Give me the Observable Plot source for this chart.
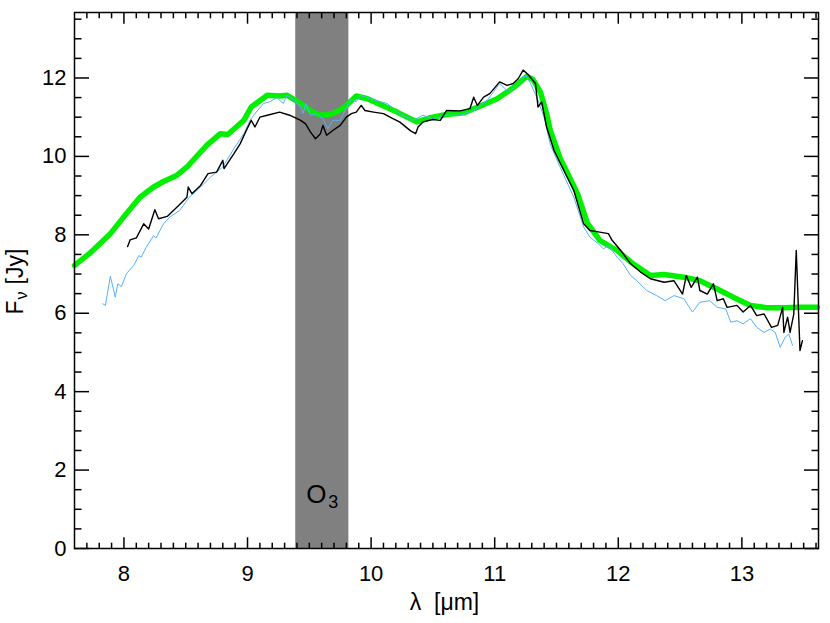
<!DOCTYPE html>
<html><head><meta charset="utf-8">
<script src="https://cdn.jsdelivr.net/npm/d3@7"></script>
<script src="https://cdn.jsdelivr.net/npm/@observablehq/plot@0.6"></script>
<style>body{margin:0;background:#fff} #chart svg{display:block}</style>
</head><body><div id="chart"></div>
<script>
// ---- data ----
const greenLambda = [7.6,7.72,7.89,8.02,8.13,8.24,8.32,8.43,8.51,8.67,8.78,8.84,8.97,9.03,9.16,9.26,9.32,9.43,9.51,9.59,9.69,9.78,9.88,9.97,10.07,10.21,10.37,10.48,10.61,10.75,10.88,11.02,11.15,11.26,11.31,11.37,11.42,11.45,11.53,11.60,11.67,11.75,11.85,11.99,12.12,12.26,12.37,12.53,12.66,12.80,12.93,13.07,13.20,13.34,13.47,13.61];
const greenFlux = [7.22,7.52,8.03,8.54,8.96,9.22,9.36,9.52,9.73,10.28,10.58,10.56,10.92,11.26,11.56,11.54,11.56,11.35,11.16,11.05,11.09,11.24,11.54,11.47,11.33,11.13,10.88,10.99,11.07,11.11,11.28,11.47,11.75,12.04,11.96,11.64,11.09,10.66,9.95,9.5,9.05,8.3,7.86,7.6,7.26,6.96,6.99,6.92,6.83,6.62,6.41,6.2,6.14,6.14,6.15,6.15];

const blackLambda = [8.03,8.05,8.10,8.16,8.20,8.25,8.28,8.35,8.43,8.51,8.52,8.55,8.62,8.68,8.75,8.80,8.81,8.89,8.94,8.99,9.03,9.06,9.10,9.16,9.26,9.34,9.43,9.47,9.51,9.55,9.59,9.61,9.64,9.69,9.75,9.80,9.84,9.88,9.92,9.95,10.02,10.10,10.18,10.23,10.32,10.36,10.38,10.42,10.50,10.56,10.61,10.72,10.80,10.83,10.86,10.91,10.96,11.04,11.10,11.15,11.19,11.23,11.27,11.33,11.35,11.38,11.42,11.48,11.56,11.64,11.72,11.77,11.85,11.92,11.95,12.02,12.10,12.18,12.26,12.37,12.45,12.52,12.55,12.59,12.64,12.66,12.72,12.77,12.80,12.85,12.88,12.96,13.01,13.07,13.12,13.18,13.24,13.29,13.33,13.34,13.37,13.39,13.42,13.44,13.47,13.49];
const blackFlux = [7.70,7.87,7.92,8.28,8.15,8.64,8.41,8.47,8.71,8.96,9.22,9.05,9.26,9.56,9.60,9.90,9.69,10.07,10.32,10.66,10.92,10.75,11.00,11.05,11.13,11.05,10.92,10.83,10.62,10.45,10.58,10.79,10.54,10.66,10.79,11.00,11.09,11.13,11.30,11.17,11.13,11.09,10.96,10.88,10.65,10.58,10.75,10.88,10.94,10.92,11.17,11.16,11.22,11.51,11.30,11.51,11.60,11.90,11.81,11.86,11.98,12.20,12.09,11.86,11.26,11.39,10.75,10.15,9.64,9.13,8.28,8.11,8.07,8.03,7.86,7.60,7.26,7.05,6.88,6.79,6.83,6.49,6.96,6.66,6.92,6.58,6.49,6.75,6.32,6.37,6.15,6.20,6.03,6.20,5.94,5.98,5.64,5.69,6.15,5.51,5.90,5.51,5.98,7.60,5.05,5.30];

const blueLambda = [7.83,7.85,7.89,7.93,7.95,7.98,8.02,8.08,8.12,8.14,8.18,8.24,8.26,8.32,8.37,8.45,8.53,8.62,8.70,8.80,8.89,8.97,9.02,9.07,9.13,9.18,9.24,9.26,9.29,9.32,9.37,9.43,9.45,9.47,9.51,9.56,9.61,9.65,9.69,9.75,9.79,9.84,9.88,9.91,9.99,10.13,10.23,10.34,10.42,10.50,10.61,10.72,10.83,10.94,11.04,11.10,11.15,11.21,11.25,11.29,11.34,11.40,11.45,11.55,11.64,11.72,11.77,11.84,11.88,11.92,11.99,12.04,12.10,12.15,12.23,12.31,12.38,12.45,12.53,12.60,12.66,12.74,12.80,12.87,12.91,12.96,13.01,13.07,13.12,13.18,13.23,13.27,13.31,13.35,13.38,13.41];
const blueFlux = [6.24,6.20,6.94,6.41,6.75,6.68,7.01,7.22,7.47,7.43,7.68,7.98,7.92,8.28,8.45,8.62,8.96,9.22,9.47,9.73,10.20,10.58,10.92,11.13,11.35,11.39,11.51,11.43,11.35,11.56,11.47,11.26,11.09,11.35,11.05,11.09,10.96,10.71,10.92,10.92,11.17,11.47,11.39,11.56,11.47,11.35,11.09,10.92,11.05,10.96,11.05,11.05,11.17,11.43,11.86,11.68,11.73,11.90,12.07,11.86,11.51,11.00,10.30,9.58,8.96,8.20,7.94,7.77,7.64,7.73,7.43,7.26,6.96,6.83,6.58,6.45,6.32,6.45,6.37,6.03,6.28,6.32,6.15,6.11,5.77,5.81,5.73,5.86,5.64,5.51,5.60,5.51,5.13,5.39,5.47,5.18];

const bandRange = [9.39, 9.82];
const bandLabelPos = [9.605, 1.38];
const xTickLabels = [8, 9, 10, 11, 12, 13];
const yTickLabels = [0, 2, 4, 6, 8, 10, 12];
const xMinorTicks = [7.7,7.8,7.9,8.1,8.2,8.3,8.4,8.5,8.6,8.7,8.8,8.9,9.1,9.2,9.3,9.4,9.5,9.6,9.7,9.8,9.9,10.1,10.2,10.3,10.4,10.5,10.6,10.7,10.8,10.9,11.1,11.2,11.3,11.4,11.5,11.6,11.7,11.8,11.9,12.1,12.2,12.3,12.4,12.5,12.6,12.7,12.8,12.9,13.1,13.2,13.3,13.4,13.5,13.6];
const yMinorTicks = [0.5,1,1.5,2.5,3,3.5,4.5,5,5.5,6.5,7,7.5,8.5,9,9.5,10.5,11,11.5,12.5,13,13.5];
const xDomain = [7.6, 13.62];
const yDomain = [0, 13.67];
const xTitle = "λ\u00a0\u00a0[μm]";

// ---- build tables ----
const green = greenLambda.map((x, i) => ({x, y: greenFlux[i]}));
const black = blackLambda.map((x, i) => ({x, y: blackFlux[i]}));
const blue = blueLambda.map((x, i) => ({x, y: blueFlux[i]}));

// inward ticks on all four sides (negative tickSize = inward)
const tickAxes = [];
for (const [vals, len] of [[xTickLabels, 10.7], [xMinorTicks, 5.3]]) {
  for (const anchor of ["bottom", "top"]) {
    tickAxes.push(Plot.axisX(vals, {anchor, tickSize: -len, tickFormat: () => "", label: null, stroke: "#000", strokeWidth: 1.5}));
  }
}
for (const [vals, len] of [[yTickLabels, 15], [yMinorTicks, 7.5]]) {
  for (const anchor of ["left", "right"]) {
    tickAxes.push(Plot.axisY(vals, {anchor, tickSize: -len, tickFormat: () => "", label: null, stroke: "#000", strokeWidth: 1.5}));
  }
}

const plot = Plot.plot({
  width: 830, height: 623,
  marginLeft: 74, marginRight: 12, marginTop: 12, marginBottom: 75,
  style: {fontFamily: "Liberation Sans", fontSize: "22px"},
  x: {domain: xDomain, axis: null},
  y: {domain: yDomain, axis: null},
  marks: [
    Plot.rect([bandRange], {x1: d => d[0], x2: d => d[1], fill: "#808080"}),
    Plot.line(green, {x: "x", y: "y", stroke: "#00f000", strokeWidth: 5.5}),
    Plot.line(blue, {x: "x", y: "y", stroke: "#55b0ff", strokeWidth: 1}),
    Plot.line(black, {x: "x", y: "y", stroke: "#000", strokeWidth: 1.4}),
    ...tickAxes,
    Plot.axisX(xTickLabels, {anchor: "bottom", tickSize: 0, tickPadding: 17, label: null, tickFormat: d => String(d)}),
    Plot.axisY(yTickLabels, {anchor: "left", tickSize: 0, tickPadding: 8, label: null, tickFormat: d => String(d)}),
    // O3 label inside the band
    Plot.text(["O"], {x: () => bandLabelPos[0], y: () => bandLabelPos[1], text: d => d, fontSize: 26, dx: -6}),
    Plot.text(["3"], {x: () => bandLabelPos[0], y: () => bandLabelPos[1], text: d => d, fontSize: 18, dx: 11, dy: 8}),
    // axis titles
    Plot.text([xTitle], {frameAnchor: "bottom", dy: 54, dx: -2, text: d => d, fontSize: 23, textAnchor: "middle", lineAnchor: "middle"}),
    Plot.text(["F"], {frameAnchor: "left", dx: -59, dy: 27, rotate: -90, text: d => d, fontSize: 23, textAnchor: "middle", lineAnchor: "middle"}),
    Plot.text(["ν"], {frameAnchor: "left", dx: -53, dy: 15, rotate: -90, text: d => d, fontSize: 16, textAnchor: "middle", lineAnchor: "middle"}),
    Plot.text(["[Jy]"], {frameAnchor: "left", dx: -59, dy: -14, rotate: -90, text: d => d, fontSize: 23, textAnchor: "middle", lineAnchor: "middle"}),
    Plot.frame({stroke: "#000", strokeWidth: 1.5})
  ]
});
document.getElementById("chart").appendChild(plot);
</script>
</body></html>
